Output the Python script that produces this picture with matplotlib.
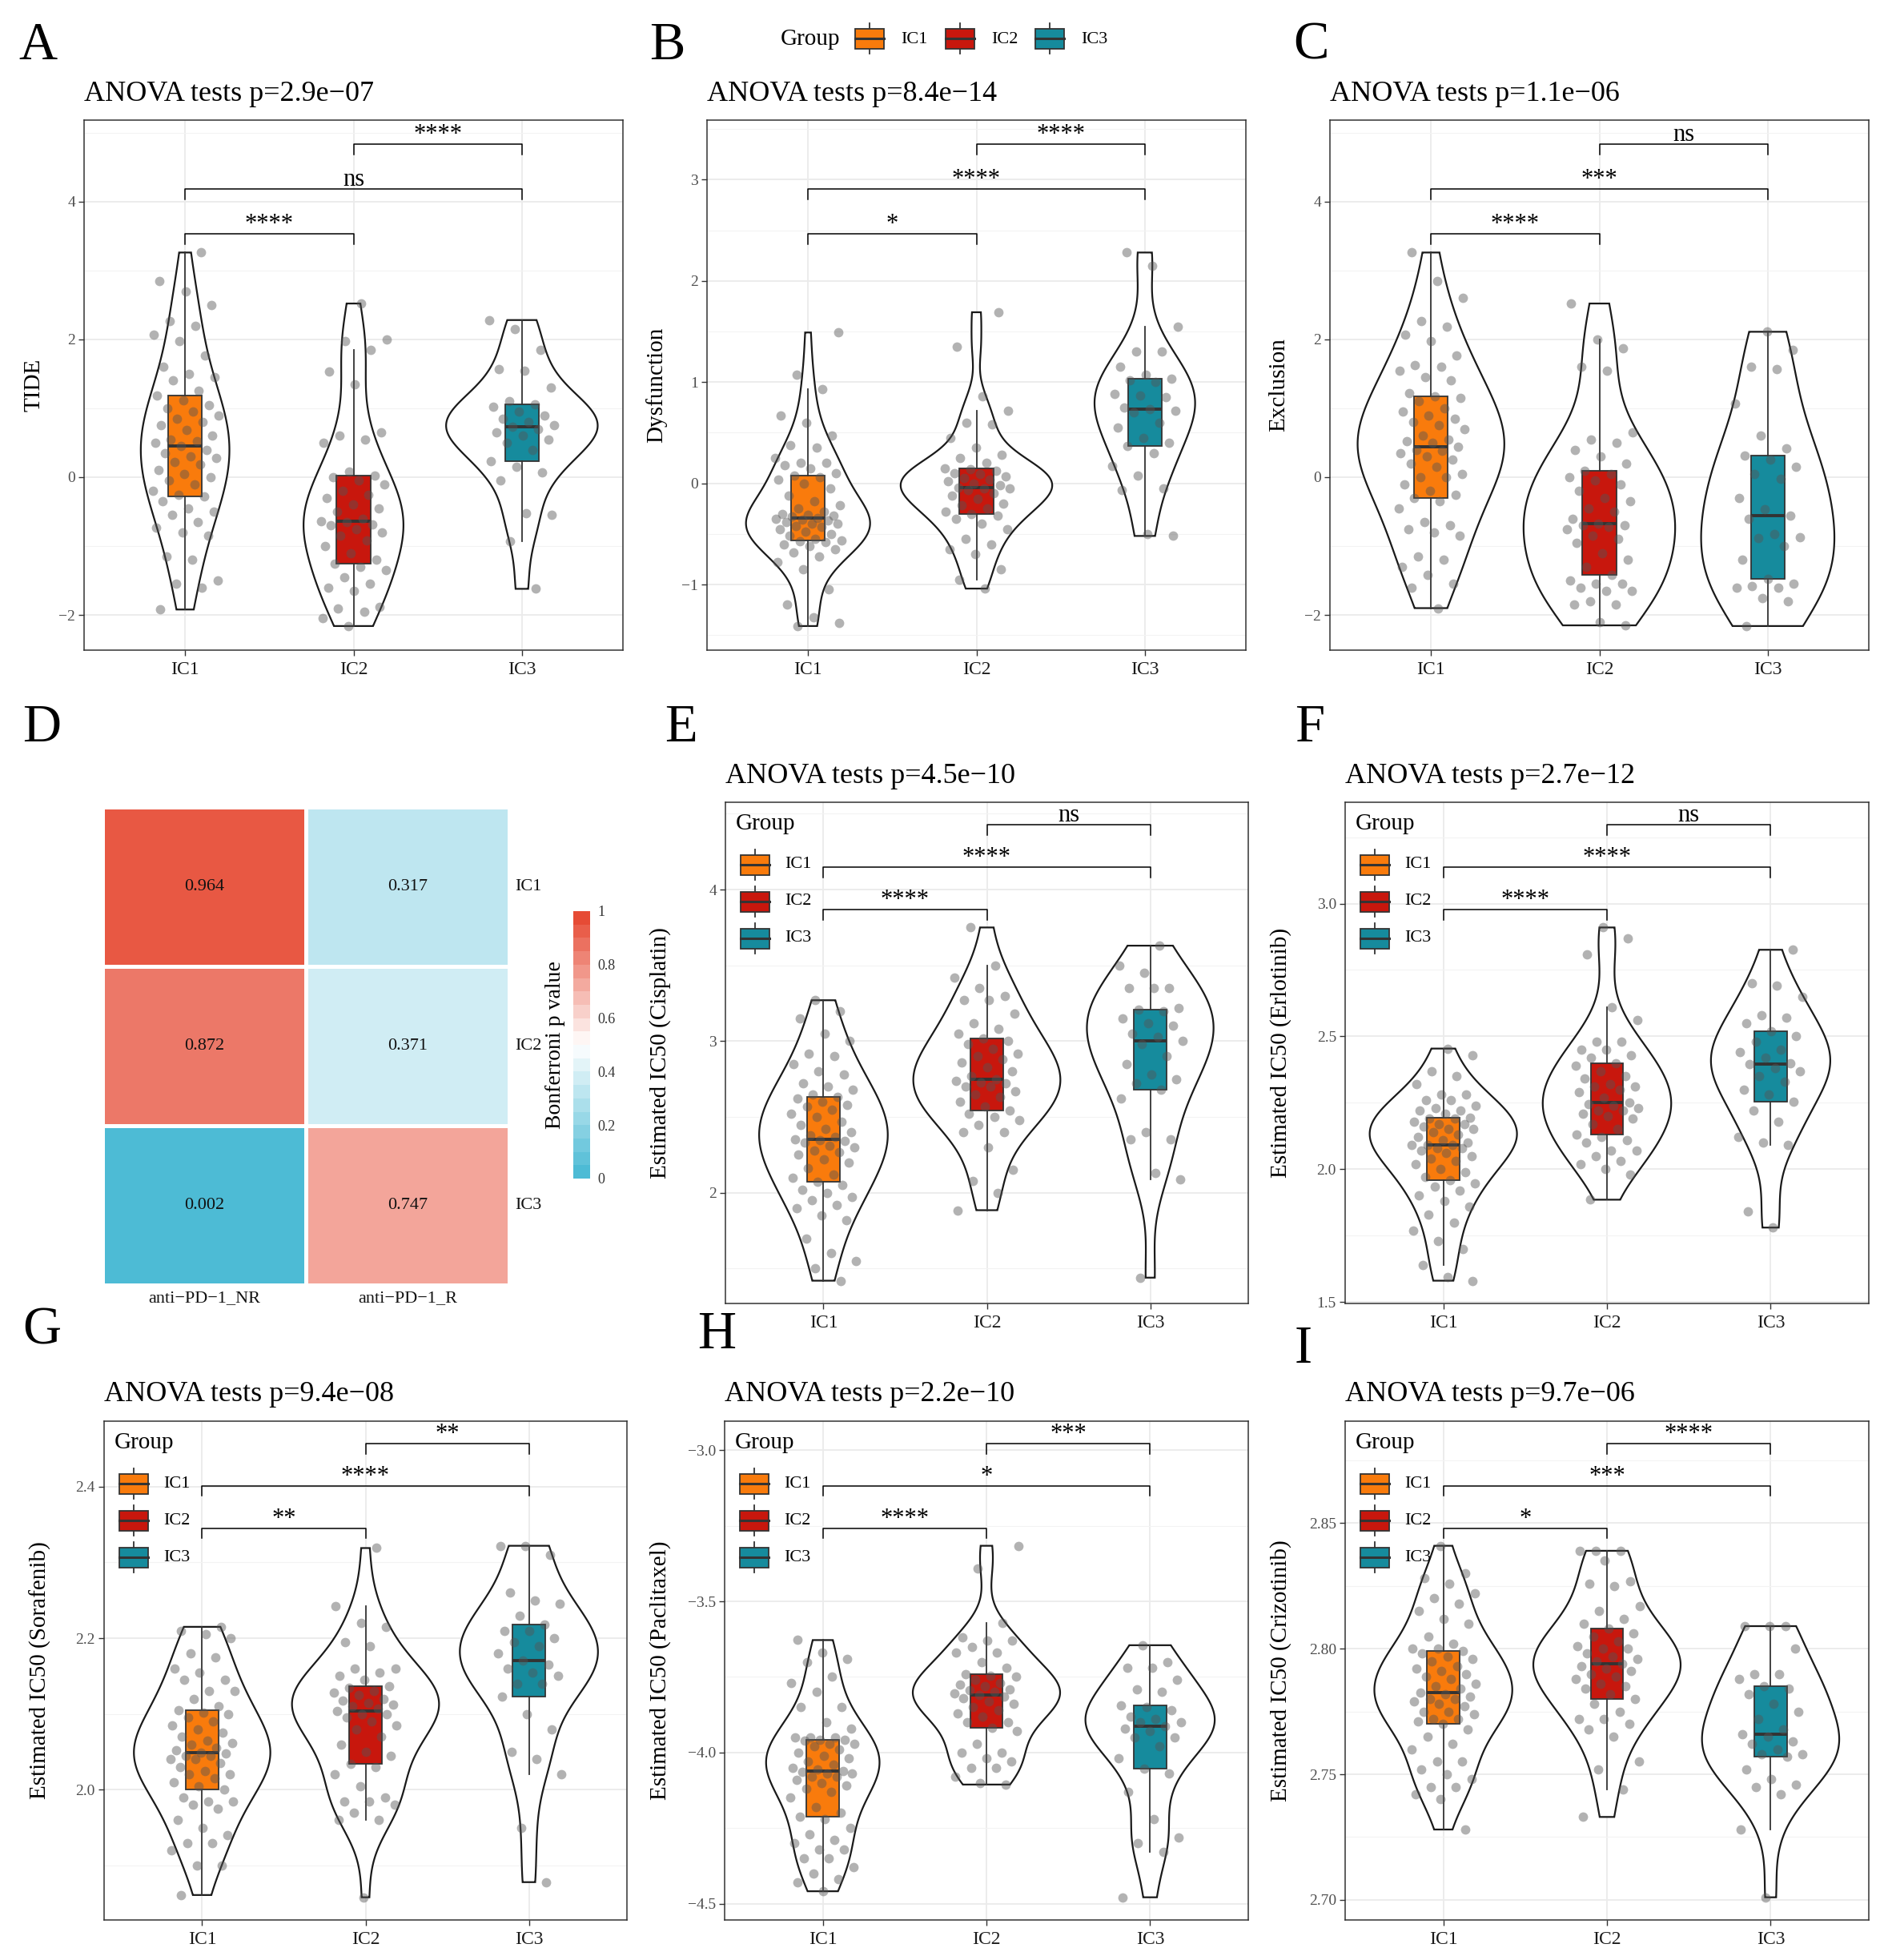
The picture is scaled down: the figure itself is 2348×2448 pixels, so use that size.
import numpy as np
import matplotlib
matplotlib.use("Agg")
import matplotlib.pyplot as plt
import matplotlib.transforms as mtransforms
from matplotlib.patches import Rectangle
from matplotlib.lines import Line2D
from matplotlib.colors import LinearSegmentedColormap, Normalize
from matplotlib.cm import ScalarMappable
from matplotlib.ticker import FixedLocator, FixedFormatter, MultipleLocator

plt.rcParams['font.family'] = ['Liberation Serif', 'DejaVu Serif']
plt.rcParams['axes.unicode_minus'] = True

# ------------------------------------------------------------------ data
groups = ["IC1", "IC2", "IC3"]
group_colors = ["#F97B0C", "#C8170D", "#168B9D"]

tide_ic1 = [-1.92, -1.6, -1.55, -1.5, -1.2, -1.15, -0.85, -0.8, -0.73, -0.65, -0.55, -0.5, -0.45, -0.35,
            -0.28,
            -0.25, -0.2, -0.1, -0.05, 0.0, 0.05, 0.1, 0.18, 0.22, 0.28, 0.3, 0.35, 0.4,
            0.45,
            0.5, 0.52, 0.55, 0.6, 0.68, 0.75, 0.8, 0.85, 0.9, 0.95, 1.0, 1.05, 1.12,
            1.18,
            1.25, 1.4, 1.45, 1.5, 1.6, 1.77, 1.97, 2.07, 2.2, 2.27, 2.5, 2.7, 2.85, 3.26]
tide_ic2 = [-2.16, -2.05, -1.95, -1.9, -1.88, -1.65, -1.6, -1.55, -1.45, -1.35, -1.3,
            -1.26,
            -1.2, -1.1, -1.0, -0.92, -0.85, -0.8, -0.75, -0.7, -0.68, -0.65,
            -0.635,
            -0.6, -0.5, -0.45, -0.4, -0.3, -0.25, -0.2, -0.1, -0.05, 0.0,
            0.025,
            0.08, 0.5, 0.55, 0.6, 0.65, 1.35, 1.53, 1.85, 1.98, 2.0, 2.52]
tide_ic3 = [-1.62, -0.93, -0.55, -0.52, -0.05, 0.07, 0.15,
            0.23,
            0.4, 0.5, 0.55, 0.6, 0.65, 0.7,
            0.73,
            0.75, 0.8, 0.85, 0.9, 0.95, 1.02,
            1.06,
            1.1, 1.3, 1.55, 1.57, 1.85, 2.15, 2.28]

dysf_ic1 = [-1.41, -1.38, -1.32, -1.2, -1.05, -0.85, -0.78, -0.72, -0.68, -0.65, -0.62, -0.6, -0.58, -0.57,
            -0.565,
            -0.55, -0.52, -0.5, -0.48, -0.45, -0.43, -0.42, -0.4, -0.4, -0.38, -0.37, -0.36, -0.35,
            -0.34,
            -0.33, -0.32, -0.31, -0.3, -0.28, -0.25, -0.22, -0.18, -0.12, -0.05, 0.0, 0.04, 0.06,
            0.08,
            0.1, 0.15, 0.18, 0.2, 0.2, 0.25, 0.35, 0.38, 0.47, 0.6, 0.67, 0.93, 1.07, 1.49]
dysf_ic2 = [-1.04, -0.95, -0.85, -0.7, -0.65, -0.6, -0.55, -0.45, -0.4, -0.35, -0.32,
            -0.30,
            -0.28, -0.25, -0.22, -0.2, -0.15, -0.12, -0.1, -0.07, -0.05, -0.05,
            -0.04,
            -0.02, 0.0, 0.02, 0.04, 0.05, 0.07, 0.09, 0.1, 0.12, 0.14,
            0.15,
            0.2, 0.25, 0.28, 0.35, 0.45, 0.58, 0.6, 0.72, 0.86, 1.35, 1.69]
dysf_ic3 = [-0.52, -0.5, -0.07, -0.05, 0.08, 0.17, 0.3,
            0.365,
            0.4, 0.45, 0.55, 0.6, 0.7, 0.72,
            0.73,
            0.75, 0.85, 0.87, 0.88, 1.0, 1.02,
            1.03,
            1.07, 1.15, 1.3, 1.3, 1.55, 2.15, 2.28]

excl_ic1 = [-1.9, -1.6, -1.55, -1.42, -1.3, -1.2, -1.15, -0.85, -0.8, -0.75, -0.7, -0.65, -0.45, -0.35,
            -0.30,
            -0.25, -0.2, -0.1, 0.0, 0.0, 0.05, 0.15, 0.2, 0.25, 0.3, 0.35, 0.38, 0.4,
            0.44,
            0.5, 0.52, 0.55, 0.6, 0.7, 0.75, 0.8, 0.85, 0.9, 0.95, 1.0, 1.1, 1.15,
            1.17,
            1.22, 1.4, 1.45, 1.55, 1.6, 1.63, 1.77, 1.97, 2.07, 2.18, 2.27, 2.6, 2.85, 3.26]
excl_ic2 = [-2.15, -2.1, -1.85, -1.85, -1.8, -1.65, -1.65, -1.6, -1.55, -1.55, -1.5,
            -1.42,
            -1.3, -1.2, -1.1, -0.95, -0.9, -0.85, -0.75, -0.72, -0.7, -0.7,
            -0.67,
            -0.6, -0.5, -0.45, -0.35, -0.3, -0.2, -0.1, -0.05, 0.0, 0.05,
            0.09,
            0.2, 0.3, 0.4, 0.5, 0.55, 0.65, 1.55, 1.6, 1.87, 2.0, 2.52]
excl_ic3 = [-2.16, -1.8, -1.75, -1.6, -1.6, -1.58, -1.55,
            -1.47,
            -1.2, -1.0, -0.88, -0.87, -0.83, -0.6,
            -0.56,
            -0.47, -0.3, -0.02, 0.05, 0.15, 0.25,
            0.315,
            0.42, 0.6, 1.07, 1.57, 1.6, 1.85, 2.11]

cisp_ic1 = [1.42, 1.5, 1.55, 1.6, 1.7, 1.82, 1.85, 1.9, 1.92, 1.95, 1.97, 2.0, 2.02, 2.05,
            2.07,
            2.1, 2.12, 2.16, 2.2, 2.22, 2.25, 2.27, 2.28, 2.3, 2.31, 2.33, 2.34, 2.345,
            2.35,
            2.37, 2.38, 2.4, 2.42, 2.45, 2.47, 2.5, 2.52, 2.55, 2.57, 2.58, 2.6, 2.62,
            2.63,
            2.65, 2.68, 2.7, 2.72, 2.78, 2.8, 2.85, 2.9, 2.92, 3.0, 3.05, 3.15, 3.2, 3.27]
cisp_ic2 = [1.885, 2.0, 2.08, 2.15, 2.3, 2.4, 2.4, 2.45, 2.48, 2.5, 2.52,
            2.545,
            2.57, 2.6, 2.63, 2.65, 2.67, 2.7, 2.7, 2.72, 2.73, 2.74,
            2.75,
            2.77, 2.8, 2.83, 2.86, 2.88, 2.9, 2.92, 2.95, 2.98, 3.0,
            3.02,
            3.05, 3.08, 3.12, 3.18, 3.27, 3.27, 3.3, 3.35, 3.42, 3.5, 3.75]
cisp_ic3 = [1.44, 2.09, 2.13, 2.35, 2.35, 2.4, 2.62,
            2.68,
            2.72, 2.75, 2.78, 2.85, 2.9, 2.98,
            3.0,
            3.03, 3.05, 3.1, 3.12, 3.15, 3.2,
            3.21,
            3.22, 3.35, 3.35, 3.35, 3.45, 3.5, 3.63]

erlo_ic1 = [1.58, 1.595, 1.64, 1.7, 1.73, 1.77, 1.8, 1.83, 1.86, 1.88, 1.9, 1.92, 1.935, 1.945,
            1.957,
            1.97, 1.99, 2.0, 2.02, 2.03, 2.04, 2.05, 2.06, 2.07, 2.08, 2.08, 2.09, 2.09,
            2.092,
            2.1, 2.11, 2.12, 2.13, 2.14, 2.15, 2.15, 2.16, 2.17, 2.17, 2.18, 2.19, 2.19,
            2.195,
            2.21, 2.22, 2.22, 2.23, 2.24, 2.26, 2.26, 2.28, 2.28, 2.32, 2.35, 2.37, 2.43, 2.454]
erlo_ic2 = [1.885, 1.98, 2.0, 2.02, 2.03, 2.05, 2.07, 2.07, 2.1, 2.11, 2.12,
            2.13,
            2.15, 2.17, 2.19, 2.2, 2.21, 2.22, 2.22, 2.23, 2.24, 2.245,
            2.25,
            2.27, 2.29, 2.3, 2.31, 2.31, 2.32, 2.34, 2.35, 2.37, 2.39,
            2.40,
            2.42, 2.43, 2.45, 2.45, 2.48, 2.48, 2.56, 2.61, 2.81, 2.87, 2.91]
erlo_ic3 = [1.78, 1.84, 2.09, 2.1, 2.12, 2.18, 2.22,
            2.255,
            2.28, 2.3, 2.33, 2.35, 2.37, 2.38,
            2.395,
            2.4, 2.42, 2.44, 2.45, 2.48, 2.5,
            2.52,
            2.55, 2.57, 2.58, 2.65, 2.69, 2.7, 2.826]

sora_ic1 = [1.861, 1.9, 1.9, 1.92, 1.93, 1.93, 1.94, 1.95, 1.96, 1.975, 1.98, 1.985, 1.985, 1.99,
            2.0,
            2.005, 2.01, 2.015, 2.02, 2.02, 2.025, 2.03, 2.035, 2.04, 2.04, 2.045, 2.045, 2.048,
            2.049,
            2.052, 2.055, 2.06, 2.062, 2.065, 2.07, 2.075, 2.08, 2.085, 2.09, 2.095, 2.1, 2.102,
            2.105,
            2.11, 2.12, 2.13, 2.13, 2.145, 2.145, 2.155, 2.16, 2.175, 2.18, 2.2, 2.205, 2.21, 2.215]
sora_ic2 = [1.858, 1.96, 1.96, 1.97, 1.98, 1.985, 1.985, 1.99, 2.005, 2.02, 2.03,
            2.034,
            2.045, 2.05, 2.06, 2.07, 2.08, 2.085, 2.09, 2.095, 2.1, 2.1,
            2.104,
            2.107, 2.11, 2.112, 2.115, 2.118, 2.12, 2.125, 2.128, 2.13, 2.135,
            2.137,
            2.145, 2.15, 2.155, 2.16, 2.16, 2.19, 2.195, 2.215, 2.22, 2.242, 2.319]
sora_ic3 = [1.878, 1.95, 2.02, 2.04, 2.05, 2.08, 2.1,
            2.123,
            2.14, 2.14, 2.15, 2.155, 2.16, 2.165,
            2.17,
            2.18, 2.19, 2.195, 2.2, 2.21, 2.21,
            2.218,
            2.23, 2.245, 2.25, 2.26, 2.31, 2.322, 2.322]

pacl_ic1 = [-4.459, -4.43, -4.42, -4.4, -4.38, -4.35, -4.35, -4.32, -4.32, -4.3, -4.29, -4.27, -4.25, -4.22,
            -4.212,
            -4.2, -4.18, -4.15, -4.13, -4.12, -4.11, -4.1, -4.09, -4.08, -4.08, -4.07, -4.07, -4.065,
            -4.062,
            -4.055, -4.05, -4.04, -4.03, -4.02, -4.01, -4.0, -3.99, -3.98, -3.97, -3.97, -3.96, -3.958,
            -3.957,
            -3.95, -3.95, -3.95, -3.92, -3.9, -3.85, -3.85, -3.8, -3.77, -3.75, -3.7, -3.69, -3.67, -3.628]
pacl_ic2 = [-4.106, -4.1, -4.08, -4.05, -4.05, -4.03, -4.02, -4.0, -4.0, -3.97, -3.93,
            -3.919,
            -3.9, -3.9, -3.88, -3.87, -3.86, -3.85, -3.84, -3.83, -3.82, -3.815,
            -3.81,
            -3.805, -3.8, -3.795, -3.79, -3.78, -3.775, -3.77, -3.76, -3.75, -3.745,
            -3.74,
            -3.72, -3.7, -3.67, -3.67, -3.65, -3.63, -3.63, -3.62, -3.57, -3.39, -3.316]
pacl_ic3 = [-4.479, -4.33, -4.3, -4.28, -4.22, -4.13, -4.07,
            -4.054,
            -4.02, -3.98, -3.95, -3.95, -3.93, -3.92,
            -3.913,
            -3.9, -3.9, -3.89, -3.88, -3.86, -3.85,
            -3.845,
            -3.8, -3.79, -3.76, -3.72, -3.72, -3.7, -3.645]

crizo_ic1 = [2.728, 2.74, 2.742, 2.745, 2.745, 2.748, 2.75, 2.752, 2.755, 2.755, 2.76, 2.762, 2.765, 2.768,
             2.770,
             2.771, 2.772, 2.772, 2.774, 2.775, 2.775, 2.777, 2.778, 2.779, 2.78, 2.78, 2.781, 2.782,
             2.7825,
             2.784, 2.785, 2.786, 2.788, 2.789, 2.79, 2.791, 2.792, 2.793, 2.795, 2.796, 2.797, 2.798,
             2.799,
             2.8, 2.8, 2.802, 2.805, 2.81, 2.812, 2.815, 2.818, 2.82, 2.822, 2.826, 2.828, 2.83, 2.841]
crizo_ic2 = [2.733, 2.744, 2.752, 2.755, 2.765, 2.768, 2.77, 2.772, 2.772, 2.775, 2.778,
             2.780,
             2.782, 2.784, 2.785, 2.786, 2.788, 2.789, 2.79, 2.791, 2.792, 2.793,
             2.794,
             2.795, 2.796, 2.797, 2.798, 2.8, 2.8, 2.801, 2.803, 2.805, 2.806,
             2.808,
             2.81, 2.812, 2.815, 2.817, 2.825, 2.826, 2.827, 2.835, 2.839, 2.839, 2.839]
crizo_ic3 = [2.701, 2.728, 2.742, 2.745, 2.746, 2.748, 2.752,
             2.757,
             2.758, 2.758, 2.76, 2.762, 2.763, 2.765,
             2.766,
             2.768, 2.772, 2.775, 2.778, 2.782, 2.784,
             2.785,
             2.788, 2.79, 2.79, 2.8, 2.809, 2.809, 2.809]

# significance labels for (IC1-IC2, IC1-IC3, IC2-IC3)
sig_tide = ["****", "ns", "****"]
sig_dysf = ["*", "****", "****"]
sig_excl = ["****", "***", "ns"]
sig_cisp = ["****", "****", "ns"]
sig_erlo = ["****", "****", "ns"]
sig_sora = ["**", "****", "**"]
sig_pacl = ["****", "*", "***"]
sig_crizo = ["*", "***", "****"]

titles = {
    "A": "ANOVA tests p=2.9e\u221207", "B": "ANOVA tests p=8.4e\u221214", "C": "ANOVA tests p=1.1e\u221206",
    "E": "ANOVA tests p=4.5e\u221210", "F": "ANOVA tests p=2.7e\u221212",
    "G": "ANOVA tests p=9.4e\u221208", "H": "ANOVA tests p=2.2e\u221210", "I": "ANOVA tests p=9.7e\u221206",
}

yt_tide = [-2, 0, 2, 4]; ytl_tide = ["\u22122", "0", "2", "4"]
yt_dysf = [-1, 0, 1, 2, 3]; ytl_dysf = ["\u22121", "0", "1", "2", "3"]
yt_excl = [-2, 0, 2, 4]; ytl_excl = ["\u22122", "0", "2", "4"]
yt_cisp = [2, 3, 4]; ytl_cisp = ["2", "3", "4"]
yt_erlo = [1.5, 2.0, 2.5, 3.0]; ytl_erlo = ["1.5", "2.0", "2.5", "3.0"]
yt_sora = [2.0, 2.2, 2.4]; ytl_sora = ["2.0", "2.2", "2.4"]
yt_pacl = [-4.5, -4.0, -3.5, -3.0]; ytl_pacl = ["\u22124.5", "\u22124.0", "\u22123.5", "\u22123.0"]
yt_crizo = [2.70, 2.75, 2.80, 2.85]; ytl_crizo = ["2.70", "2.75", "2.80", "2.85"]

heat_rows = ["IC1", "IC2", "IC3"]
heat_cols = ["anti\u2212PD\u22121_NR", "anti\u2212PD\u22121_R"]
heat_nr = [0.964, 0.872, 0.002]
heat_r = [0.317, 0.371, 0.747]
cbar_ticks = [0, 0.2, 0.4, 0.6, 0.8, 1.0]
cbar_ticklabels = ["0", "0.2", "0.4", "0.6", "0.8", "1"]

# ------------------------------------------------------------------ figure
W, H, DPI = 2348, 2448, 100
fig = plt.figure(figsize=(W / DPI, H / DPI), dpi=DPI)
fig.patch.set_facecolor("white")
PX = mtransforms.Affine2D().scale(1.0 / W, -1.0 / H).translate(0, 1) + fig.transFigure

EDGE = "#333333"
BW_ADJUST = 1.3


def add_ax_px(l, t, r, b):
    return fig.add_axes([l / W, 1 - b / H, (r - l) / W, (b - t) / H])


def ptext(x, y, s, **kw):
    return fig.text(x, y, s, transform=PX, **kw)


def legend_key(xc, yc, color):
    fig.add_artist(Line2D([xc, xc], [yc - 19, yc + 19], transform=PX, color=EDGE, lw=1.3, zorder=5))
    fig.add_artist(Rectangle((xc - 18, yc - 12.5), 36, 25, transform=PX, facecolor=color,
                             edgecolor=EDGE, lw=1.3, zorder=6))
    fig.add_artist(Line2D([xc - 18, xc + 18], [yc, yc], transform=PX, color=EDGE, lw=2.2, zorder=7))


def nrd0(v):
    n = len(v)
    sd = np.std(v, ddof=1)
    q1, q3 = np.percentile(v, [25, 75])
    lo = min(sd, (q3 - q1) / 1.34)
    if lo <= 0:
        lo = sd
    return 0.9 * lo * n ** -0.2


def violin_panel(box, data, key, ylabel, ylabel_x, sig, yt, ytl, minor, inner_legend=False, phase=0.0):
    l, t, r, b = box
    ax = add_ax_px(l, t, r, b)
    ax.set_facecolor("white")
    dens = []
    for vals in data:
        v = np.asarray(vals, float)
        bw = nrd0(v) * BW_ADJUST
        grid = np.linspace(v.min(), v.max(), 512)
        d = np.exp(-0.5 * ((grid[:, None] - v[None, :]) / bw) ** 2).sum(1) / (len(v) * bw * np.sqrt(2 * np.pi))
        dens.append((grid, d))
    dmax = max(d.max() for _, d in dens)
    for i, (grid, d) in enumerate(dens):
        w = d / dmax * 0.45
        xs = np.concatenate([i + 1 - w, (i + 1 + w)[::-1]])
        ys = np.concatenate([grid, grid[::-1]])
        ax.fill(xs, ys, facecolor="white", edgecolor="#1A1A1A", lw=1.6, zorder=2)
    bp = ax.boxplot(data, positions=[1, 2, 3], widths=0.2, patch_artist=True, showfliers=False,
                    showcaps=False, whis=1.5, manage_ticks=False, zorder=3,
                    boxprops=dict(edgecolor=EDGE, linewidth=1.3),
                    medianprops=dict(color=EDGE, linewidth=2.8),
                    whiskerprops=dict(color=EDGE, linewidth=1.3))
    for patch, c in zip(bp["boxes"], group_colors):
        patch.set_facecolor(c)
    for i, vals in enumerate(data):
        n = len(vals)
        jit = ((np.arange(n) * 0.6180339887 + 0.13 + 0.29 * i + phase) % 1.0 - 0.5) * 0.4
        ax.scatter(i + 1 + jit, vals, s=72, color="#555555", alpha=0.45, lw=0, zorder=4)
    allv = np.concatenate([np.asarray(v, float) for v in data])
    ymin, ymax = allv.min(), allv.max()
    R = ymax - ymin
    tip = 0.028 * R
    for k, ((a, c), lab) in enumerate(zip([(1, 2), (1, 3), (2, 3)], sig)):
        yb = ymax + R * (0.05 + 0.12 * k)
        ax.plot([a, a, c, c], [yb - tip, yb, yb, yb - tip], color="black", lw=1.1, zorder=5, clip_on=False)
        ax.annotate(lab, xy=((a + c) / 2, yb), xytext=(0, 3), textcoords="offset points",
                    ha="center", va="baseline", fontsize=22, zorder=6)
    top = ymax + R * 0.29
    span = top - ymin
    ax.set_ylim(ymin - 0.05 * span, top + 0.05 * span)
    ax.set_xlim(0.4, 3.6)
    ax.set_xticks([1, 2, 3])
    ax.set_xticklabels(groups)
    ax.yaxis.set_major_locator(FixedLocator(yt))
    ax.yaxis.set_major_formatter(FixedFormatter(ytl))
    ax.yaxis.set_minor_locator(MultipleLocator(minor))
    ax.grid(which="major", color="#EBEBEB", linewidth=1.3)
    ax.yaxis.grid(which="minor", color="#F3F3F3", linewidth=0.8)
    ax.set_axisbelow(True)
    ax.tick_params(axis="both", which="major", direction="out", length=5, width=1.0, color=EDGE)
    ax.tick_params(axis="x", labelsize=17, labelcolor="#1A1A1A", pad=5)
    ax.tick_params(axis="y", labelsize=14, labelcolor="#4D4D4D", pad=3)
    ax.tick_params(axis="y", which="minor", length=0)
    for s in ax.spines.values():
        s.set_color(EDGE)
        s.set_linewidth(1.1)
    ptext(l, t - 33, titles[key], fontsize=26, ha="left", va="center")
    ptext(ylabel_x, (t + b) / 2, ylabel, fontsize=21, rotation=90, ha="center", va="center")
    if inner_legend:
        ptext(l + 13, t + 27, "Group", fontsize=21, ha="left", va="center")
        for gi, (g, c) in enumerate(zip(groups, group_colors)):
            yc = t + 78 + 46 * gi
            legend_key(l + 37, yc, c)
            ptext(l + 74, yc, g, fontsize=16, ha="left", va="center")
    return ax


# ------------------------------------------------------------------ row 1
violin_panel((105, 150, 778, 812), [tide_ic1, tide_ic2, tide_ic3], "A", "TIDE", 42,
             sig_tide, yt_tide, ytl_tide, 1.0, phase=0.0)
violin_panel((883, 150, 1556, 812), [dysf_ic1, dysf_ic2, dysf_ic3], "B", "Dysfunction", 820,
             sig_dysf, yt_dysf, ytl_dysf, 0.5, phase=0.21)
violin_panel((1661, 150, 2334, 812), [excl_ic1, excl_ic2, excl_ic3], "C", "Exclusion", 1597,
             sig_excl, yt_excl, ytl_excl, 1.0, phase=0.47)

# top shared legend
ptext(975, 49, "Group", fontsize=21, ha="left", va="center")
for xk, xl, g, c in zip([1086, 1199, 1311], [1125, 1238, 1350], groups, group_colors):
    legend_key(xk, 48, c)
    ptext(xl, 49, g, fontsize=16, ha="left", va="center")

# ------------------------------------------------------------------ row 2
violin_panel((906, 1002, 1559, 1628), [cisp_ic1, cisp_ic2, cisp_ic3], "E", "Estimated IC50 (Cisplatin)", 825,
             sig_cisp, yt_cisp, ytl_cisp, 0.5, inner_legend=True, phase=0.63)
violin_panel((1680, 1002, 2334, 1628), [erlo_ic1, erlo_ic2, erlo_ic3], "F", "Estimated IC50 (Erlotinib)", 1600,
             sig_erlo, yt_erlo, ytl_erlo, 0.25, inner_legend=True, phase=0.82)

# heatmap D
axh = add_ax_px(128, 1008, 636, 1605)
mat = np.array([heat_nr, heat_r]).T
cmap_cont = LinearSegmentedColormap.from_list("pvc", ["#4DBBD5", "#FFFFFF", "#E64B35"], N=256)
cmap_disc = LinearSegmentedColormap.from_list("pvd", ["#4DBBD5", "#FFFFFF", "#E64B35"], N=20)
axh.pcolormesh(np.arange(3), np.arange(4), mat, cmap=cmap_cont, vmin=0, vmax=1,
               edgecolors="white", linewidth=2.5)
axh.set_xlim(0, 2)
axh.set_ylim(3, 0)
axh.axis("off")
for i in range(3):
    for j in range(2):
        axh.text(j + 0.5, i + 0.5, f"{mat[i, j]:.3f}", ha="center", va="center", fontsize=16, color="#111111")
    axh.text(2.03, i + 0.5, heat_rows[i], ha="left", va="center", fontsize=16, color="#111111")
for j in range(2):
    axh.text(j + 0.5, 3.085, heat_cols[j], ha="center", va="center", fontsize=16, color="#111111")

cax = add_ax_px(716, 1138, 737, 1472)
cb = fig.colorbar(ScalarMappable(norm=Normalize(0, 1), cmap=cmap_disc), cax=cax, ticks=cbar_ticks)
cb.set_ticklabels(cbar_ticklabels)
cb.outline.set_visible(False)
cax.tick_params(length=0, labelsize=13, labelcolor="#333333", pad=7)
ptext(693, 1305, "Bonferroni p value", fontsize=20, rotation=90, ha="center", va="center")

# ------------------------------------------------------------------ row 3
violin_panel((130, 1775, 783, 2398), [sora_ic1, sora_ic2, sora_ic3], "G", "Estimated IC50 (Sorafenib)", 50,
             sig_sora, yt_sora, ytl_sora, 0.1, inner_legend=True, phase=0.05)
violin_panel((905, 1775, 1559, 2398), [pacl_ic1, pacl_ic2, pacl_ic3], "H", "Estimated IC50 (Paclitaxel)", 825,
             sig_pacl, yt_pacl, ytl_pacl, 0.25, inner_legend=True, phase=0.37)
violin_panel((1680, 1775, 2334, 2398), [crizo_ic1, crizo_ic2, crizo_ic3], "I", "Estimated IC50 (Crizotinib)", 1600,
             sig_crizo, yt_crizo, ytl_crizo, 0.025, inner_legend=True, phase=0.71)

# panel letters
for letter, (x, y) in {"A": (47, 57), "B": (833, 57), "C": (1638, 57),
                       "D": (52, 910), "E": (850, 910), "F": (1636, 910),
                       "G": (52, 1662), "H": (895, 1668), "I": (1628, 1686)}.items():
    ptext(x, y, letter, fontsize=48, ha="center", va="center")

fig.savefig("out.png", dpi=DPI, facecolor="white")
